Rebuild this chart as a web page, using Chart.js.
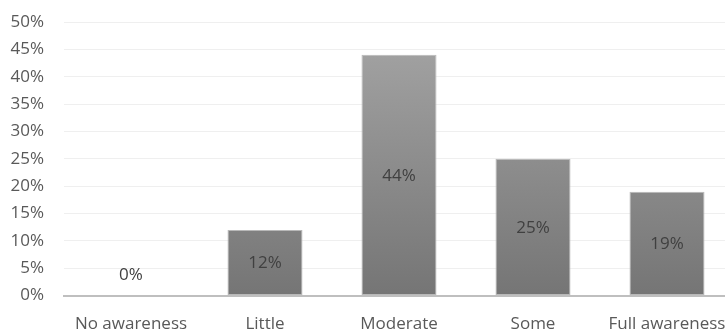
<!DOCTYPE html>
<html>
<head>
<meta charset="utf-8">
<script src="https://cdn.jsdelivr.net/npm/chart.js@4/dist/chart.umd.min.js"></script>
<style>
  html, body { margin: 0; padding: 0; background: #fff; overflow: hidden; }
  #wrap { width: 734px; height: 347px; }
</style>
</head>
<body>
<div id="wrap"><canvas id="c" width="734" height="347"></canvas></div>
<script>
const categories = ['No awareness', 'Little', 'Moderate', 'Some', 'Full awareness'];
const shares = [0, 12, 44, 25, 19];
const tickStep = 5;
const tickMax = 50;

const FONT = '"Open Sans", "DejaVu Sans", sans-serif';

// Writes each percentage in the middle of its bar (above the baseline for zero bars)
const valueLabels = {
  id: 'valueLabels',
  afterDatasetsDraw(chart) {
    const ctx = chart.ctx;
    const meta = chart.getDatasetMeta(0);
    ctx.save();
    ctx.font = '17px ' + FONT;
    ctx.fillStyle = '#404040';
    ctx.textAlign = 'center';
    ctx.textBaseline = 'middle';
    meta.data.forEach((bar, i) => {
      const v = shares[i];
      const y = v === 0 ? bar.base - 20 : (bar.y + bar.base) / 2 + 1;
      ctx.fillText(v + '%', bar.x, y);
    });
    ctx.restore();
  }
};

const ctx = document.getElementById('c').getContext('2d');
new Chart(ctx, {
  type: 'bar',
  data: {
    labels: categories,
    datasets: [{
      data: shares,
      backgroundColor: (c) => {
        const area = c.chart.chartArea;
        if (!area) return '#8c8c8c';
        const g = c.chart.ctx.createLinearGradient(0, area.top, 0, area.bottom);
        g.addColorStop(0, '#a6a6a6');
        g.addColorStop(1, '#757575');
        return g;
      },
      borderColor: '#b8b8b8',
      borderWidth: 1,
      borderSkipped: false,
      barPercentage: 0.56,
      categoryPercentage: 1.0
    }]
  },
  options: {
    responsive: false,
    animation: false,
    layout: { padding: { left: 0, right: 0, top: 22, bottom: 3 } },
    plugins: { legend: { display: false }, tooltip: { enabled: false } },
    scales: {
      x: {
        afterFit(scale) { scale.paddingLeft = 0; scale.paddingRight = 0; },
        grid: { display: false },
        border: { display: true, color: '#bfbfbf', width: 2 },
        ticks: {
          color: '#595959',
          font: { size: 17, family: FONT },
          padding: 10,
          maxRotation: 0,
          autoSkip: false
        }
      },
      y: {
        min: 0,
        max: tickMax,
        afterFit(scale) { scale.width = 64; scale.paddingTop = 0; scale.paddingBottom = 0; },
        grid: { color: '#efefef', lineWidth: 1, drawTicks: false },
        border: { display: false },
        ticks: {
          stepSize: tickStep,
          color: '#595959',
          padding: 20,
          font: { size: 17, family: FONT },
          callback: (v) => v + '%'
        }
      }
    }
  },
  plugins: [valueLabels]
});
</script>
</body>
</html>
